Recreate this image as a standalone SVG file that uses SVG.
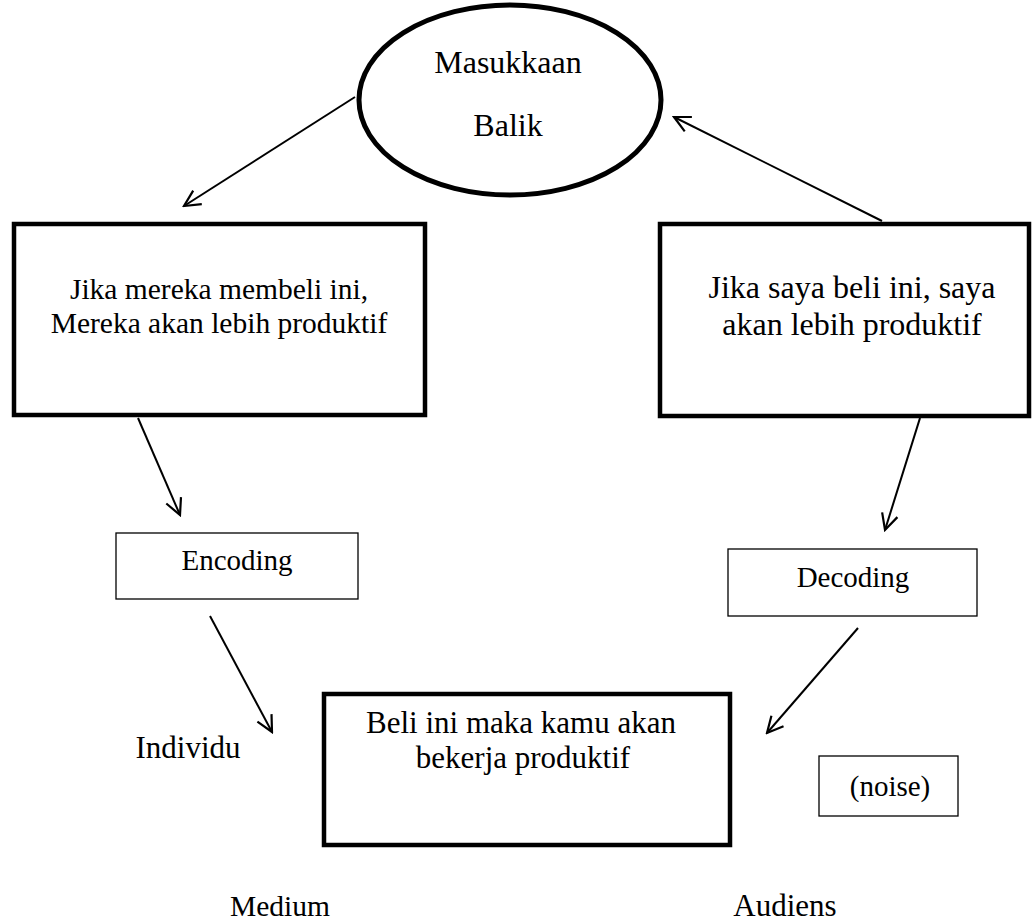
<svg xmlns="http://www.w3.org/2000/svg" width="1034" height="922" viewBox="0 0 1034 922">
<style>
text{font-family:"Liberation Serif","Times New Roman",serif;font-size:29.5px;fill:#000;text-anchor:middle}
.big{font-size:32px}
.mid{font-size:31px}
.sm{font-size:29px}
.thick{fill:#fff;stroke:#000;stroke-width:4.5}
.thin{fill:#fff;stroke:#000;stroke-width:1.3}
.con line{stroke:#000;stroke-width:2}
</style>
<defs>
<marker id="arr" viewBox="0 0 20 20" refX="18" refY="10" markerWidth="20" markerHeight="20" markerUnits="userSpaceOnUse" orient="auto">
<path d="M2,2 L18,10 L2,18" fill="none" stroke="#000" stroke-width="2.2"/>
</marker>
</defs>
<g id="feedback">
<ellipse cx="510" cy="100" rx="151" ry="95" fill="#fff" stroke="#000" stroke-width="5"/>
<text class="big" x="508" y="73">Masukkaan</text>
<text class="big" x="508" y="136">Balik</text>
</g>
<g id="sender">
<rect class="thick" x="14" y="224" width="411" height="191"/>
<text x="219" y="299">Jika mereka membeli ini,</text>
<text x="219" y="333">Mereka akan lebih produktif</text>
</g>
<g id="receiver">
<rect class="thick" x="660" y="224" width="369" height="192"/>
<text class="big" x="852" y="298">Jika saya beli ini, saya</text>
<text class="big" x="852" y="335">akan lebih produktif</text>
</g>
<g id="encoding">
<rect class="thin" x="116" y="533" width="242" height="66"/>
<text class="sm" x="237" y="570">Encoding</text>
</g>
<g id="decoding">
<rect class="thin" x="728" y="549" width="249" height="67"/>
<text class="sm" x="853" y="587">Decoding</text>
</g>
<g id="message">
<rect class="thick" x="324" y="694" width="406" height="151"/>
<text class="mid" x="521" y="733">Beli ini maka kamu akan</text>
<text class="mid" x="523" y="768">bekerja produktif</text>
</g>
<g id="noise">
<rect class="thin" x="819" y="756" width="139" height="60"/>
<text class="sm" x="890" y="796">(noise)</text>
</g>
<g id="labels">
<text class="mid" x="188" y="758">Individu</text>
<text x="280" y="916">Medium</text>
<text class="mid" x="785" y="916">Audiens</text>
</g>
<g class="con" id="connectors">
<line x1="355" y1="97" x2="184" y2="206" marker-end="url(#arr)"/>
<line x1="882" y1="221" x2="674" y2="117" marker-end="url(#arr)"/>
<line x1="138" y1="418" x2="180" y2="515" marker-end="url(#arr)"/>
<line x1="920" y1="418" x2="885" y2="530" marker-end="url(#arr)"/>
<line x1="210" y1="616" x2="272" y2="732" marker-end="url(#arr)"/>
<line x1="858" y1="628" x2="767" y2="733" marker-end="url(#arr)"/>
</g>
</svg>
